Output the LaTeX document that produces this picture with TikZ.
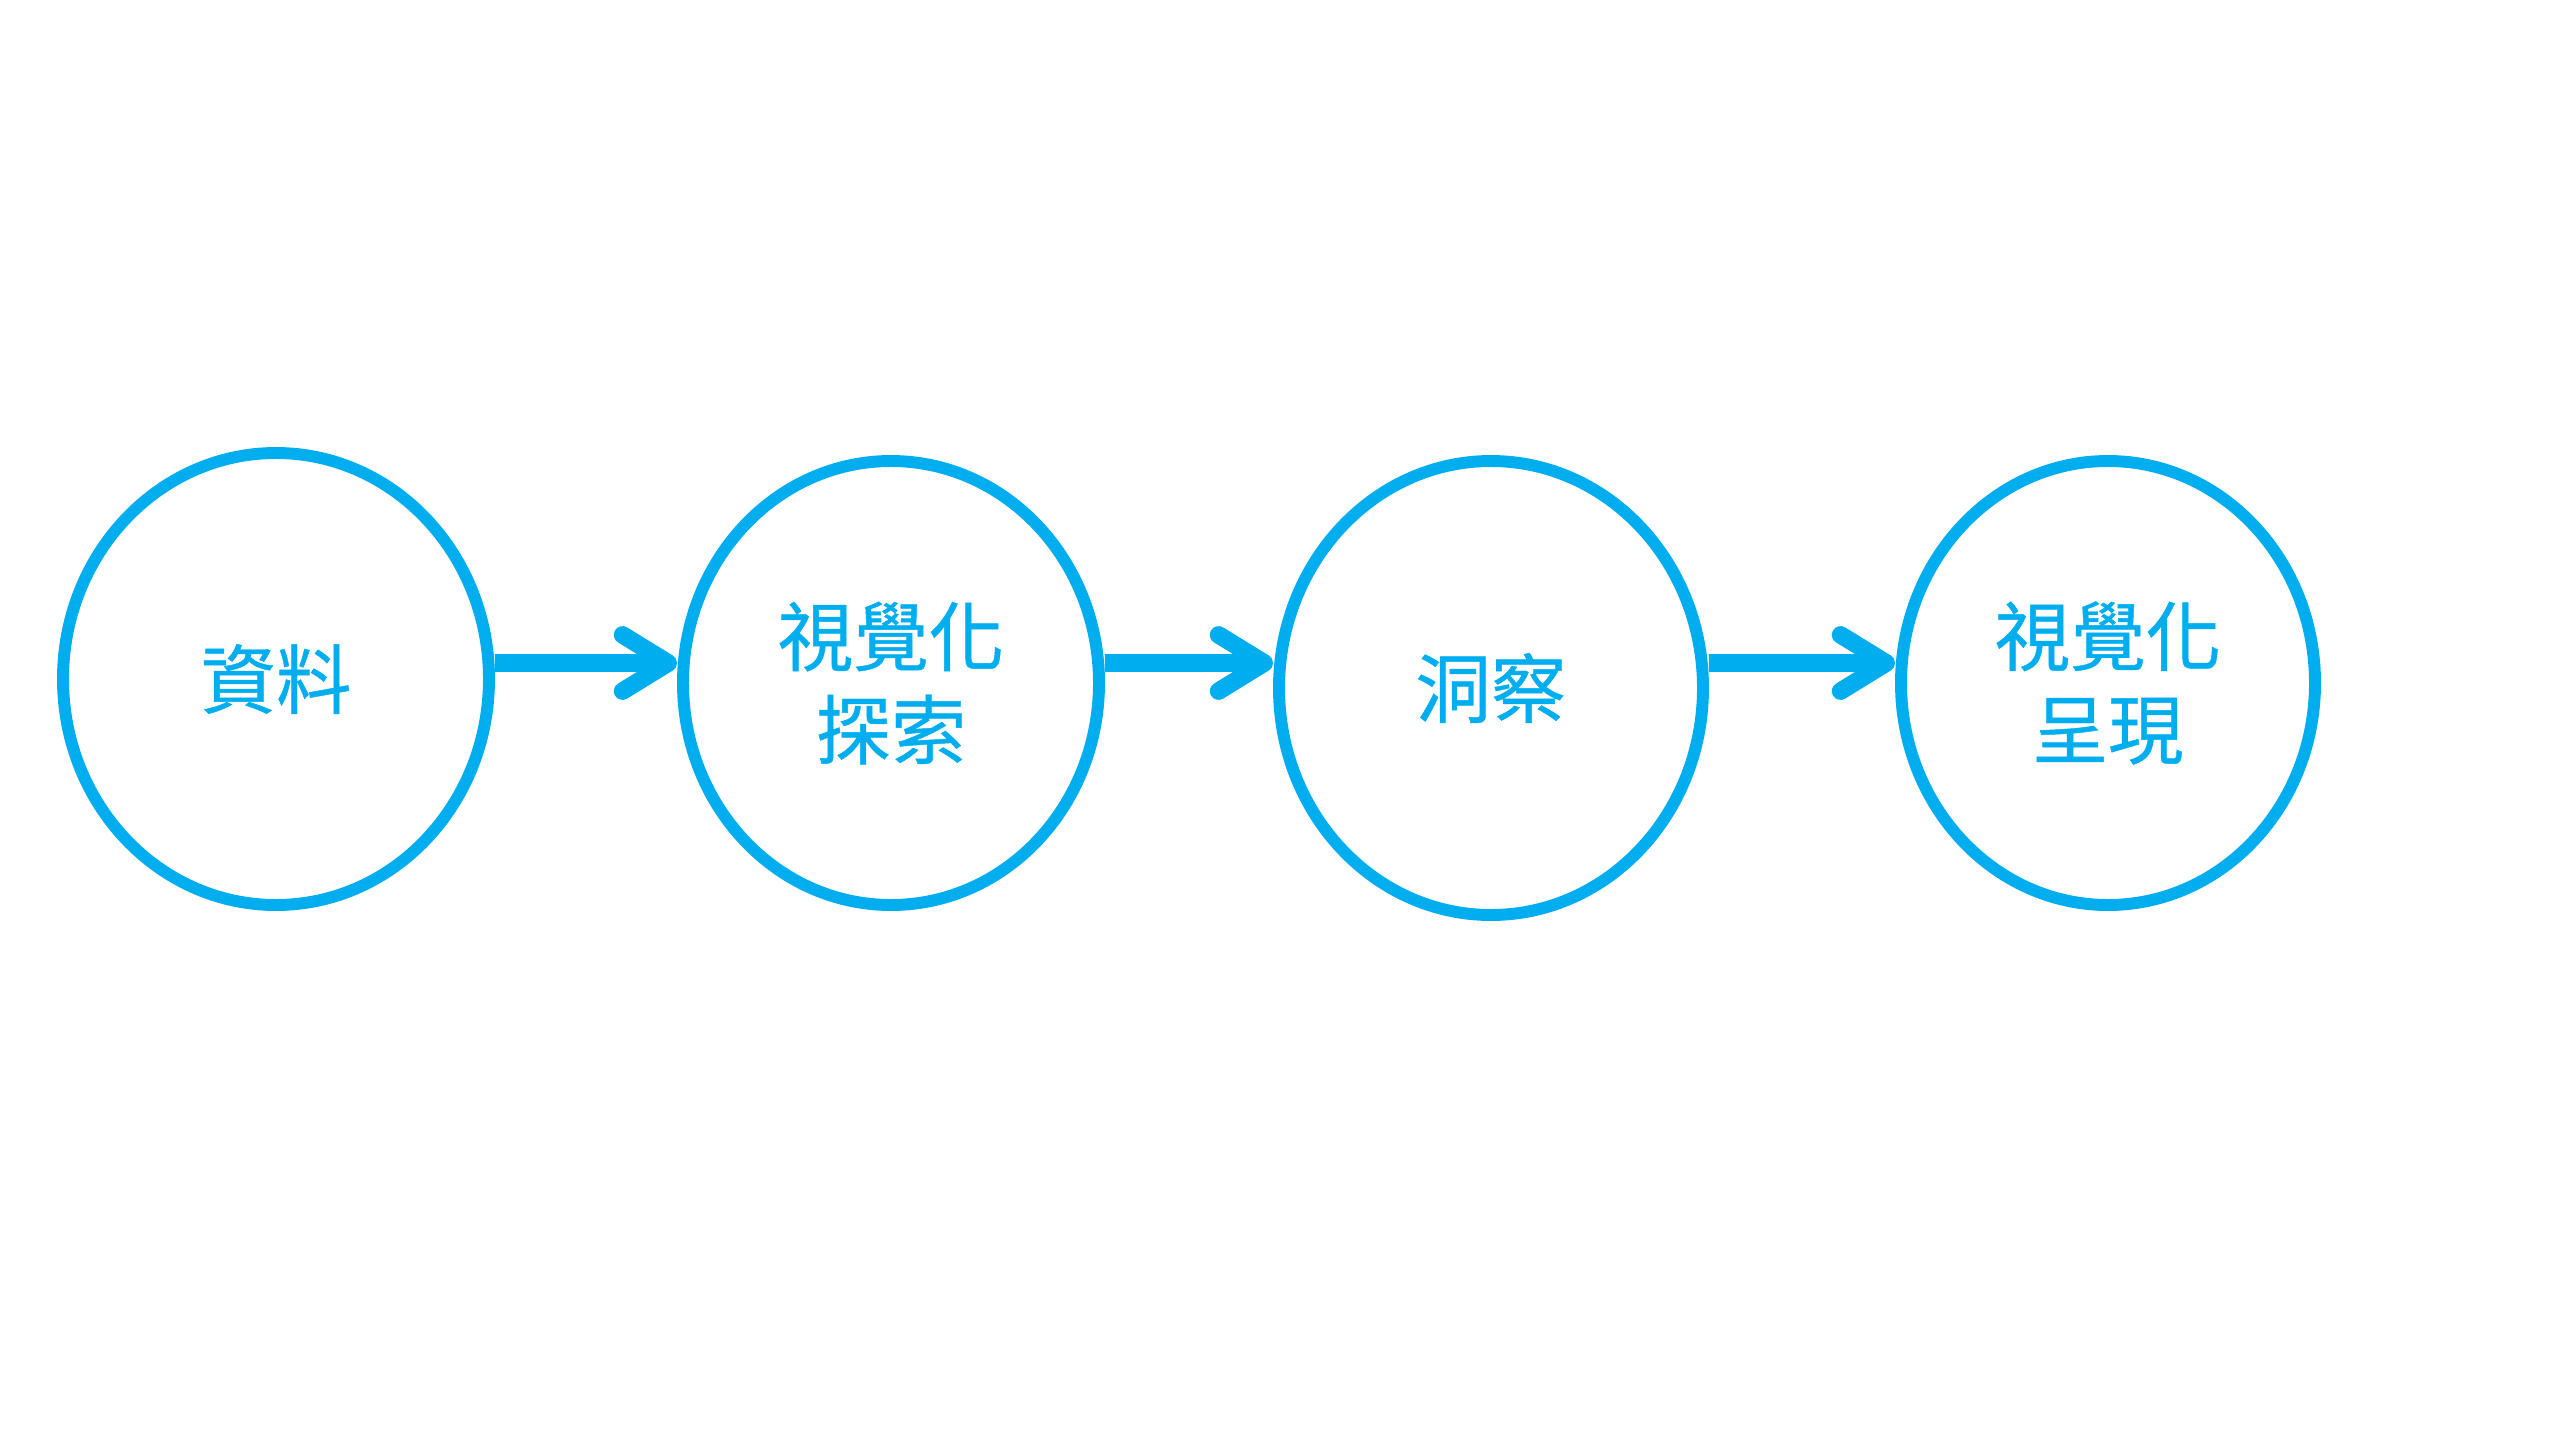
\documentclass[tikz,border=0pt]{standalone}
\usepackage{fontspec}
\newfontfamily\cjk[FakeBold=0.6]{Noto Sans CJK TC}
\usetikzlibrary{shapes.geometric,arrows.meta}
\definecolor{cyanblue}{RGB}{0,174,239}
\tikzset{
  stage/.style={ellipse, draw=cyanblue, line width=3.4pt, inner sep=0pt,
    text=cyanblue, font=\cjk\fontsize{21.5pt}{26.5pt}\selectfont, align=center},
  flow/.style={draw=cyanblue, line width=5pt,
    -{Straight Barb[length=13pt,width=16pt,line cap=round,line join=round]}}
}
\begin{document}
\begin{tikzpicture}
\useasboundingbox (0,0) rectangle (25.6,-14.4);
\node[stage, minimum width=4.26cm, minimum height=4.52cm] (c1) at (2.76,-6.79) {資料};
\node[stage, minimum width=4.16cm, minimum height=4.44cm] (c2) at (8.91,-6.83) {視覺化\\探索};
\node[stage, minimum width=4.24cm, minimum height=4.54cm] (c3) at (14.91,-6.88) {洞察};
\node[stage, minimum width=4.14cm, minimum height=4.44cm] (c4) at (21.08,-6.83) {視覺化\\呈現};
\draw[flow] ([yshift=0.16cm]c1.east) -- ([yshift=0.20cm]c2.west);
\draw[flow] ([yshift=0.20cm]c2.east) -- ([yshift=0.25cm]c3.west);
\draw[flow] ([yshift=0.25cm]c3.east) -- ([yshift=0.20cm]c4.west);
\end{tikzpicture}
\end{document}
